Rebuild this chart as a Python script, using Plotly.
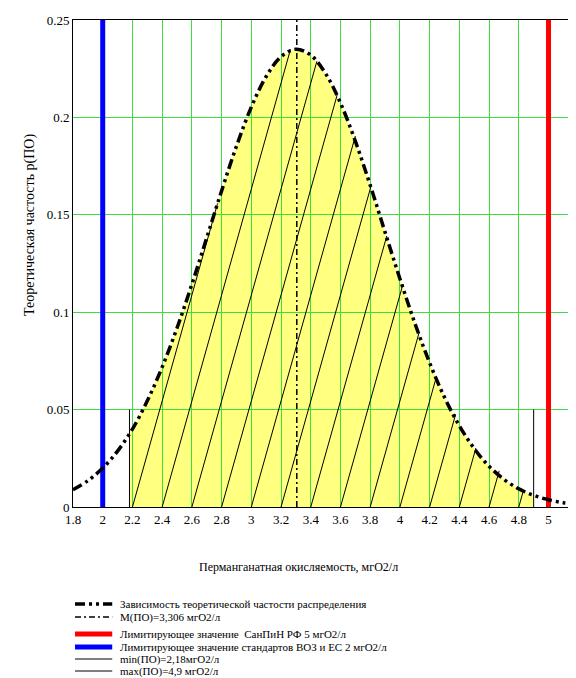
import numpy as np
import plotly.graph_objects as go

# theoretical frequency curve
po_x = [1.8, 1.9, 2.0, 2.1, 2.2, 2.3, 2.4, 2.5, 2.6, 2.7, 2.8, 2.9, 3.0, 3.1, 3.2, 3.3, 3.4,
        3.5, 3.6, 3.7, 3.8, 3.9, 4.0, 4.1, 4.2, 4.3, 4.4, 4.5, 4.6, 4.7, 4.8, 4.9, 5.0, 5.1, 5.2]
po_p = [0.0089, 0.0135, 0.0200, 0.0287, 0.0400, 0.0545, 0.0718, 0.0919, 0.1143, 0.1382,
        0.1623, 0.1852, 0.2053, 0.2210, 0.2312, 0.2350, 0.2320, 0.2225, 0.2074, 0.1878,
        0.1652, 0.1411, 0.1172, 0.0945, 0.0740, 0.0563, 0.0417, 0.0300, 0.0209, 0.0142,
        0.0093, 0.0060, 0.0037, 0.0022, 0.0013]

mean_po = 3.306
min_po = 2.18
max_po = 4.9
limit_sanpin = 5
limit_who = 2
minmax_height = 0.05

legend_labels = [
    "Зависимость теоретической частости распределения",
    "M(ПО)=3,306 мгО2/л",
    "Лимитирующее значение  СанПиН РФ 5 мгО2/л",
    "Лимитирующее значение стандартов ВОЗ и ЕС 2 мгО2/л",
    "min(ПО)=2,18мгО2/л",
    "max(ПО)=4,9 мгО2/л",
]

FONT = "Times New Roman, Liberation Serif, DejaVu Serif, serif"
GRID = "#3fdc3f"
YELLOW = "#ffff80"
CURVE_DASH = "10px,4px,3px,4px,3px,4px"
MEAN_DASH = "6px,3px,2px,3px"

# yellow area between min and max, under the curve
xs = np.linspace(min_po, max_po, 400)
ys = np.interp(xs, po_x, po_p)
path = "M %.4f,0 " % min_po + " ".join("L %.4f,%.5f" % (a, b) for a, b in zip(xs, ys)) + " L %.4f,0 Z" % max_po

# hatch lines, starting from the bottom every 0.2 and clipped by the curve
k = 0.272
hx, hy = [], []
for x0 in np.arange(2.2, 4.81, 0.2):
    seg = xs[xs >= x0]
    cur = np.interp(seg, po_x, po_p)
    hit = np.nonzero(k * (seg - x0) >= cur)[0]
    xe = seg[hit[0]] if len(hit) else max_po
    hx += [x0, xe, None]
    hy += [0, k * (xe - x0), None]

fig = go.Figure()
fig.add_trace(go.Scatter(x=hx, y=hy, mode="lines", line=dict(color="black", width=1),
                         hoverinfo="skip", showlegend=False))
fig.add_trace(go.Scatter(x=[limit_who, limit_who], y=[0, 0.25], mode="lines",
                         line=dict(color="#0000ff", width=5), showlegend=False))
fig.add_trace(go.Scatter(x=[limit_sanpin, limit_sanpin], y=[0, 0.25], mode="lines",
                         line=dict(color="#ff0000", width=5), showlegend=False))
fig.add_trace(go.Scatter(x=[min_po, min_po], y=[0, minmax_height], mode="lines",
                         line=dict(color="black", width=1), showlegend=False))
fig.add_trace(go.Scatter(x=[max_po, max_po], y=[0, minmax_height], mode="lines",
                         line=dict(color="black", width=1), showlegend=False))
fig.add_trace(go.Scatter(x=[mean_po, mean_po], y=[0, 0.25], mode="lines",
                         line=dict(color="black", width=1.5, dash=MEAN_DASH), showlegend=False))
fig.add_trace(go.Scatter(x=po_x, y=po_p, mode="lines", line_shape="spline",
                         line=dict(color="black", width=3.5, dash=CURVE_DASH), showlegend=False))

fig.add_shape(type="path", path=path, xref="x", yref="y", layer="below",
              fillcolor=YELLOW, line=dict(width=0))

# hand-made legend below the chart (positions in reference pixels)
styles = [
    dict(color="black", width=3.5, dash=CURVE_DASH),
    dict(color="black", width=1.5, dash=MEAN_DASH),
    dict(color="#ff0000", width=5),
    dict(color="#0000ff", width=5),
    dict(color="black", width=1),
    dict(color="black", width=1),
]
rows_px = [604, 617, 634, 647, 659, 671]
for lab, st, py_ in zip(legend_labels, styles, rows_px):
    yp = (507 - py_) / 487
    fig.add_shape(type="line", xref="paper", yref="paper", x0=0.004, x1=0.078, y0=yp, y1=yp, line=st)
    fig.add_annotation(xref="paper", yref="paper", x=0.09, y=yp, text=lab, showarrow=False,
                       xanchor="left", yanchor="middle", font=dict(family=FONT, size=11, color="black"))

fig.add_annotation(xref="paper", yref="paper", x=(298 - 73) / 503, y=(507 - 576) / 487,
                   text="Перманганатная окисляемость, мгО2/л", showarrow=False,
                   font=dict(family=FONT, size=12, color="black"))
fig.add_annotation(xref="paper", yref="paper", x=(20 - 73) / 503, y=(507 - 225) / 487,
                   text="Теоретическая частость p(ПО)", showarrow=False, textangle=-90,
                   font=dict(family=FONT, size=14, color="black"))

# the page adds an 8px body margin, so the figure is 8px smaller than the window
fig.update_layout(
    width=568, height=670,
    margin=dict(l=65, r=0, t=12, b=171),
    paper_bgcolor="white", plot_bgcolor="white",
    showlegend=False,
    font=dict(family=FONT, size=13, color="black"),
    xaxis=dict(range=[1.8, 5.185], tick0=1.8, dtick=0.2, showgrid=True, gridcolor=GRID,
               gridwidth=1, zeroline=False, showline=True, linecolor="black", linewidth=1,
               mirror=True, ticks=""),
    yaxis=dict(range=[0, 0.25], dtick=0.05, showgrid=True, gridcolor=GRID, gridwidth=1,
               zeroline=False, showline=True, linecolor="black", linewidth=1, ticks=""),
)

fig.write_html("out.html")
